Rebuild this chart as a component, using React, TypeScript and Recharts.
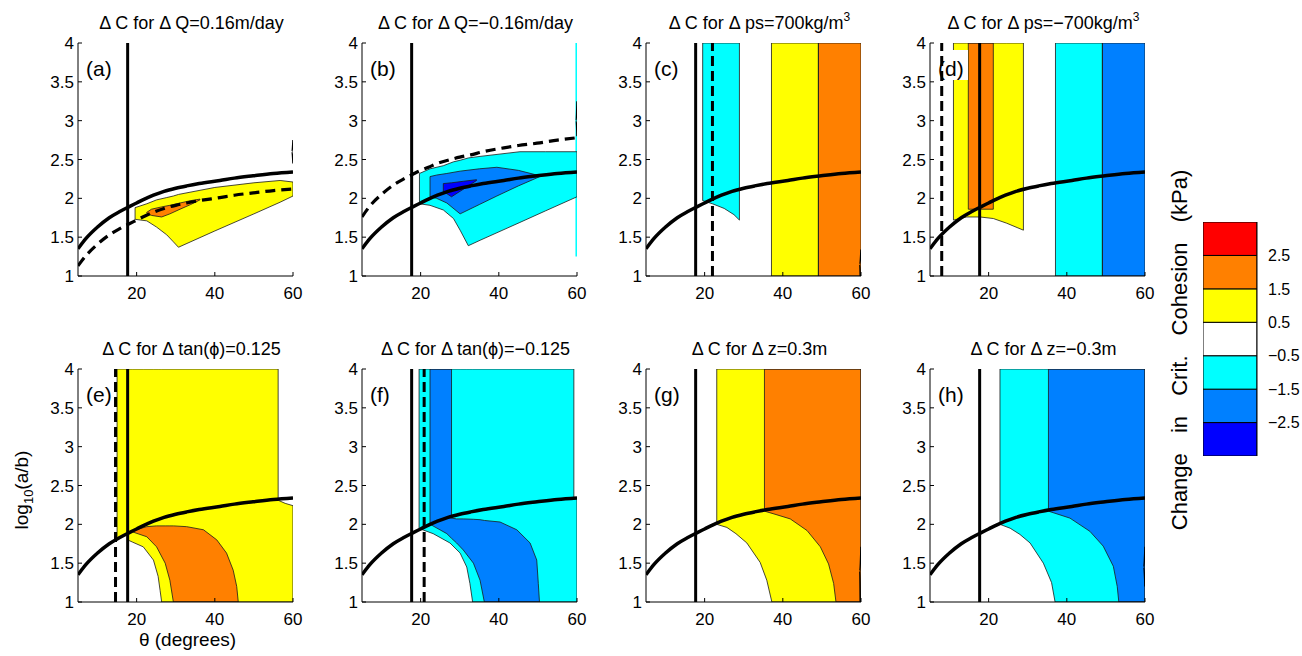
import React from 'react';
import { ComposedChart, Area, Line, XAxis, YAxis, ReferenceLine, ReferenceArea } from 'recharts';

// ---------- shared axes ----------
const X_DOMAIN: [number, number] = [5, 60];
const Y_DOMAIN: [number, number] = [1, 4];
const X_TICKS = [20, 40, 60];
const Y_TICKS = [1, 1.5, 2, 2.5, 3, 3.5, 4];

// ---------- colours of the contour levels ----------
const BLUE = '#0000FF';
const DODGER = '#0080FF';
const CYAN = '#00FFFF';
const WHITE = '#FFFFFF';
const YELLOW = '#FFFF00';
const ORANGE = '#FF8000';
const RED = '#FF0000';

// ---------- threshold curves (theta, log10(a/b)) ----------
const THETA = [5, 7, 10, 13, 15.7, 18, 20, 22, 24.3, 27, 30, 32.8, 36, 41.3, 45, 49.8, 55, 60];
const CRIT = [1.35, 1.48, 1.63, 1.75, 1.83, 1.89, 1.94, 1.99, 2.04, 2.09, 2.13, 2.16, 2.19, 2.23, 2.26, 2.29, 2.32, 2.34];
const DASH_A = [1.13, 1.26, 1.41, 1.53, 1.61, 1.67, 1.72, 1.77, 1.82, 1.87, 1.91, 1.94, 1.97, 2.01, 2.04, 2.07, 2.10, 2.12];
const DASH_B = [1.76, 1.90, 2.05, 2.17, 2.25, 2.31, 2.36, 2.40, 2.45, 2.49, 2.53, 2.56, 2.60, 2.65, 2.68, 2.71, 2.75, 2.78];

const SOLID_THETA = 17.7;
const DASH_THETA_C = 22.0;
const DASH_THETA_D = 8.0;
const DASH_THETA_E = 14.6;
const DASH_THETA_F = 20.9;

// ---------- contour regions: [theta, low, high] ----------
type Row = [number, number, number];

const A_YELLOW: Row[] = [[19.6, 1.73, 1.88], [22.6, 1.71, 1.93], [25.1, 1.63, 1.98], [27.7, 1.53, 2.01], [29.4, 1.44, 2.03], [30.7, 1.37, 2.05], [40, 1.58, 2.14], [50, 1.80, 2.20], [56.7, 1.95, 2.23], [60, 2.03, 2.21]];
const A_ORANGE: Row[] = [[22.6, 1.81, 1.82], [23.8, 1.78, 1.86], [26.4, 1.76, 1.89], [28.5, 1.80, 1.91], [31.1, 1.86, 1.94], [33.8, 1.92, 1.97], [36.2, 1.98, 1.99]];

const B_CYAN: Row[] = [[19.7, 1.93, 2.32], [22.4, 1.91, 2.38], [25.8, 1.85, 2.42], [28.4, 1.74, 2.47], [30.1, 1.59, 2.49], [32.2, 1.39, 2.52], [35.2, 1.46, 2.54], [45.4, 1.69, 2.60], [52, 1.84, 2.60], [60, 2.02, 2.60]];
const B_CYAN_EDGE: Row[] = [[59.6, 1.25, 4], [60, 1.25, 4]];
const B_DODGER: Row[] = [[22.4, 2.02, 2.28], [24.1, 2.00, 2.30], [26.7, 1.94, 2.32], [30.1, 1.80, 2.35], [35, 1.92, 2.38], [39.5, 2.03, 2.40], [45, 2.16, 2.36], [50.5, 2.28, 2.29]];
const B_BLUE: Row[] = [[25.8, 2.09, 2.19], [27.9, 2.02, 2.20], [31, 2.12, 2.22], [34.3, 2.23, 2.24]];

const C_CYAN: Row[] = [[19.5, 1.97, 4], [22, 1.93, 4], [25, 1.87, 4], [27.5, 1.79, 4], [28.9, 1.72, 4]];
const C_YELLOW: Row[] = [[37.1, 1, 4], [49.1, 1, 4]];
const C_ORANGE: Row[] = [[49.1, 1, 4], [60, 1, 4]];

const D_YELLOW: Row[] = [[11.0, 1.72, 4], [14.4, 1.76, 4], [17.8, 1.76, 4], [21.2, 1.74, 4], [24.6, 1.68, 4], [28.9, 1.59, 4]];
const D_ORANGE: Row[] = [[14.8, 1.86, 4], [21.2, 1.86, 4]];
const D_CYAN: Row[] = [[37.1, 1, 4], [49.1, 1, 4]];
const D_DODGER: Row[] = [[49.1, 1, 4], [60, 1, 4]];

const E_YELLOW: Row[] = [[15.0, 1.82, 4], [17.7, 1.89, 4], [17.7, 1.80, 4], [19, 1.77, 4], [21.7, 1.71, 4], [24.3, 1.54, 4], [25.5, 1.33, 4], [26.0, 1.15, 4], [26.4, 1.0, 4], [56.2, 1, 4], [56.2, 1, 2.31], [58, 1, 2.27], [60, 1, 2.24]];
const E_ORANGE: Row[] = [[19.1, 1.90, 1.92], [22.6, 1.84, 1.97], [25.1, 1.71, 1.98], [27.3, 1.50, 1.98], [28.5, 1.28, 1.98], [29.4, 1.0, 1.98], [32.8, 1, 1.97], [37.1, 1, 1.93], [40.5, 1, 1.80], [43, 1, 1.63], [44.7, 1, 1.41], [45.6, 1, 1.2], [46, 1, 1.0]];

const F_CYAN: Row[] = [[19.6, 1.95, 4], [20.5, 1.93, 4], [23.2, 1.88, 4], [27.5, 1.76, 4], [30.1, 1.63, 4], [31.8, 1.45, 4], [32.6, 1.24, 4], [33.3, 1.0, 4], [59.2, 1, 4], [59.2, 1, 2.34], [60, 1, 2.34]];
const F_DODGER: Row[] = [[22.4, 2.00, 4], [22.8, 1.99, 4], [26.7, 1.88, 4], [27.9, 1.82, 4], [27.9, 1.82, 2.08], [29.2, 1.76, 2.07], [30.9, 1.67, 2.07], [33.5, 1.50, 2.065], [35.2, 1.28, 2.06], [36.3, 1.0, 2.05], [40.3, 1, 2.03], [44.6, 1, 1.93], [48, 1, 1.76], [49.7, 1, 1.54], [50.1, 1, 1.24], [50.4, 1, 1.0]];

const G_YELLOW: Row[] = [[23.1, 2.0, 4], [25.7, 1.96, 4], [28, 1.88, 4], [30.8, 1.76, 4], [34.2, 1.51, 4], [35.9, 1.28, 4], [37.2, 1.0, 4], [60, 1, 4]];
const G_ORANGE: Row[] = [[35.3, 2.17, 4], [38, 2.13, 4], [41.9, 2.07, 4], [46.2, 1.92, 4], [49.6, 1.71, 4], [51.7, 1.49, 4], [53, 1.24, 4], [53.6, 1.0, 4], [60, 1, 4]];

const H_CYAN: Row[] = [[22.9, 2.0, 4], [25.5, 1.95, 4], [28, 1.87, 4], [30.6, 1.76, 4], [34, 1.5, 4], [36.1, 1.25, 4], [37, 1.0, 4], [60, 1, 4]];
const H_DODGER: Row[] = [[35.3, 2.17, 4], [40.8, 2.08, 4], [45.9, 1.91, 4], [49.3, 1.72, 4], [51.9, 1.46, 4], [52.9, 1.2, 4], [53.3, 1.0, 4], [60, 1, 4]];

// small contour fragments touching the right border: [theta, log10(a/b)]
const A_EDGE: [number, number][] = [[60, 2.75], [59.75, 2.6], [60, 2.45]];
const B_EDGE: [number, number][] = [[60, 3.25], [59.8, 3.0], [60, 2.8]];
const C_EDGE: [number, number][] = [[60, 1.34], [59.7, 1.15], [59.8, 1.0]];
const G_EDGE: [number, number][] = [[60, 1.71], [59.7, 1.4], [59.8, 1.0]];
const H_EDGE: [number, number][] = [[60, 1.71], [59.7, 1.45], [60, 1.2]];

// ---------- colour bar ----------
const CB_EDGES = [-3.5, -2.5, -1.5, -0.5, 0.5, 1.5, 2.5, 3.5];
const CB_COLORS = [BLUE, DODGER, CYAN, WHITE, YELLOW, ORANGE, RED];
const CB_TICKS = [-2.5, -1.5, -0.5, 0.5, 1.5, 2.5];
const CB_LABELS = ['\u22122.5', '\u22121.5', '\u22120.5', '0.5', '1.5', '2.5'];

// ---------- text ----------
const TITLES = [
  { main: '\u0394 C for \u0394 Q=0.16m/day', sup: '' },
  { main: '\u0394 C for \u0394 Q=\u22120.16m/day', sup: '' },
  { main: '\u0394 C for \u0394 ps=700kg/m', sup: '3' },
  { main: '\u0394 C for \u0394 ps=\u2212700kg/m', sup: '3' },
  { main: '\u0394 C for \u0394 tan(\u03d5)=0.125', sup: '' },
  { main: '\u0394 C for \u0394 tan(\u03d5)=\u22120.125', sup: '' },
  { main: '\u0394 C for \u0394 z=0.3m', sup: '' },
  { main: '\u0394 C for \u0394 z=\u22120.3m', sup: '' },
];
const TAGS = ['(a)', '(b)', '(c)', '(d)', '(e)', '(f)', '(g)', '(h)'];

// ---------- layout ----------
const PLOT_W = 215;
const PLOT_H = 233;
const TOP_M = 15;
const COL_LEFT = [78, 362, 646, 930];
const ROW_TOP = [43, 369];
const FONT = '"Liberation Sans", Arial, Helvetica, sans-serif';

type Region = { rows: Row[]; color: string; edge?: boolean };
type PanelCfg = { regions: Region[]; dashCurve?: number[]; dashTheta?: number; edgeMark?: [number, number][] };

const PANELS: PanelCfg[] = [
  { regions: [{ rows: A_YELLOW, color: YELLOW }, { rows: A_ORANGE, color: ORANGE }], dashCurve: DASH_A, edgeMark: A_EDGE },
  { regions: [{ rows: B_CYAN, color: CYAN }, { rows: B_CYAN_EDGE, color: CYAN, edge: false }, { rows: B_DODGER, color: DODGER }, { rows: B_BLUE, color: BLUE }], dashCurve: DASH_B, edgeMark: B_EDGE },
  { regions: [{ rows: C_CYAN, color: CYAN }, { rows: C_YELLOW, color: YELLOW }, { rows: C_ORANGE, color: ORANGE }], dashTheta: DASH_THETA_C, edgeMark: C_EDGE },
  { regions: [{ rows: D_YELLOW, color: YELLOW }, { rows: D_ORANGE, color: ORANGE }, { rows: D_CYAN, color: CYAN }, { rows: D_DODGER, color: DODGER }], dashTheta: DASH_THETA_D },
  { regions: [{ rows: E_YELLOW, color: YELLOW }, { rows: E_ORANGE, color: ORANGE }], dashTheta: DASH_THETA_E },
  { regions: [{ rows: F_CYAN, color: CYAN }, { rows: F_DODGER, color: DODGER }], dashTheta: DASH_THETA_F },
  { regions: [{ rows: G_YELLOW, color: YELLOW }, { rows: G_ORANGE, color: ORANGE }], edgeMark: G_EDGE },
  { regions: [{ rows: H_CYAN, color: CYAN }, { rows: H_DODGER, color: DODGER }], edgeMark: H_EDGE },
];

const toArea = (rows: Row[]) => rows.map(([x, lo, hi]) => ({ x, r: [lo, hi] }));
const toOutline = (rows: Row[]) => {
  const top = rows.map(([x, , hi]) => ({ x, y: hi }));
  const bottom = rows.slice().reverse().map(([x, lo]) => ({ x, y: lo }));
  return [...top, ...bottom, top[0]];
};
const toCurve = (ys: number[]) => THETA.map((x, i) => ({ x, y: ys[i] }));
const toPts = (pts: [number, number][]) => pts.map(([x, y]) => ({ x, y }));

const tickStyle = { fontSize: 17, fill: '#000', fontFamily: FONT };

function Panel({ cfg, left, top }: { cfg: PanelCfg; left: number; top: number }) {
  return (
    <div style={{ position: 'absolute', left: left - 40, top: top - TOP_M }}>
      <ComposedChart width={40 + PLOT_W + 10} height={TOP_M + PLOT_H + 30} margin={{ top: TOP_M, right: 10, bottom: 0, left: 0 }}>
        <XAxis type="number" dataKey="x" domain={X_DOMAIN} allowDataOverflow ticks={X_TICKS} interval={0}
          tickSize={-4} tickMargin={15} height={30} tick={tickStyle} axisLine={{ stroke: '#000' }} tickLine={{ stroke: '#000' }} />
        <YAxis type="number" domain={Y_DOMAIN} allowDataOverflow ticks={Y_TICKS} interval={0}
          tickSize={-4} tickMargin={8} width={40} tick={tickStyle} axisLine={{ stroke: '#000' }} tickLine={{ stroke: '#000' }} />
        <XAxis xAxisId="top" orientation="top" type="number" domain={X_DOMAIN} allowDataOverflow ticks={X_TICKS} interval={0}
          tickSize={-4} height={0} tick={false} axisLine={{ stroke: '#000' }} tickLine={{ stroke: '#000' }} />
        <YAxis yAxisId="right" orientation="right" type="number" domain={Y_DOMAIN} allowDataOverflow ticks={Y_TICKS} interval={0}
          tickSize={-4} width={0} tick={false} axisLine={{ stroke: '#000' }} tickLine={{ stroke: '#000' }} />
        {cfg.regions.map((rg, i) => (
          <Area key={'a' + i} data={toArea(rg.rows)} dataKey="r" type="linear" fill={rg.color} fillOpacity={1}
            stroke="none" isAnimationActive={false} activeDot={false} />
        ))}
        {cfg.regions.filter((rg) => rg.edge !== false).map((rg, i) => (
          <Line key={'o' + i} data={toOutline(rg.rows)} dataKey="y" type="linear" stroke="#1a1a1a" strokeWidth={0.8}
            dot={false} activeDot={false} isAnimationActive={false} />
        ))}
        {cfg.edgeMark && (
          <Line data={toPts(cfg.edgeMark)} dataKey="y" type="monotone" stroke="#000" strokeWidth={1.5}
            dot={false} activeDot={false} isAnimationActive={false} />
        )}
        <ReferenceLine x={SOLID_THETA} stroke="#000" strokeWidth={3} ifOverflow="hidden" />
        {cfg.dashTheta !== undefined && (
          <ReferenceLine x={cfg.dashTheta} stroke="#000" strokeWidth={3} strokeDasharray="10 5" ifOverflow="hidden" />
        )}
        {cfg.dashCurve && (
          <Line data={toCurve(cfg.dashCurve)} dataKey="y" type="monotone" stroke="#000" strokeWidth={3.2}
            strokeDasharray="10 6" dot={false} activeDot={false} isAnimationActive={false} />
        )}
        <Line data={toCurve(CRIT)} dataKey="y" type="monotone" stroke="#000" strokeWidth={3.5}
          dot={false} activeDot={false} isAnimationActive={false} />
      </ComposedChart>
    </div>
  );
}

function ColorBar() {
  const cbW = 54;
  const cbH = 234;
  return (
    <div style={{ position: 'absolute', left: 1203, top: 222 - 10 }}>
      <ComposedChart width={cbW + 46} height={cbH + 20} margin={{ top: 10, right: 0, bottom: 10, left: 0 }} data={[{ x: 0 }, { x: 1 }]}>
        <XAxis type="number" dataKey="x" domain={[0, 1]} hide />
        <YAxis orientation="right" type="number" domain={[CB_EDGES[0], CB_EDGES[CB_EDGES.length - 1]]} allowDataOverflow
          ticks={CB_TICKS} interval={0} width={46} tickLine={false} tickMargin={5} axisLine={{ stroke: '#000' }}
          tick={{ fontSize: 16, fill: '#000', fontFamily: FONT, textAnchor: 'start' }}
          tickFormatter={(v: number) => CB_LABELS[CB_TICKS.indexOf(v)] ?? String(v)} />
        {CB_COLORS.map((c, i) => (
          <ReferenceArea key={i} x1={0} x2={1} y1={CB_EDGES[i]} y2={CB_EDGES[i + 1]} fill={c} fillOpacity={1}
            stroke="#000" strokeWidth={1} ifOverflow="hidden" />
        ))}
      </ComposedChart>
    </div>
  );
}

export default function App() {
  return (
    <div style={{ position: 'absolute', left: 0, top: 0, width: 1302, height: 656, background: '#fff', fontFamily: FONT, overflow: 'hidden' }}>
      {PANELS.map((cfg, i) => (
        <Panel key={i} cfg={cfg} left={COL_LEFT[i % 4]} top={ROW_TOP[Math.floor(i / 4)]} />
      ))}
      <ColorBar />
      <svg width={1302} height={656} style={{ position: 'absolute', left: 0, top: 0, pointerEvents: 'none' }} fontFamily={FONT}>
        {PANELS.map((_, i) => {
          const left = COL_LEFT[i % 4];
          const top = ROW_TOP[Math.floor(i / 4)];
          const t = TITLES[i];
          return (
            <g key={i}>
              <text x={left + PLOT_W / 2 + 6} y={top - 14} textAnchor="middle" fontSize={18} fill="#000">
                {t.main}
                {t.sup && <tspan dy={-8} fontSize={12}>{t.sup}</tspan>}
              </text>
              {i === 3 && <rect x={left + 16} y={top + 7} width={22} height={30} fill="#fff" />}
              <text x={left + 8} y={top + 33} fontSize={21} fill="#000">{TAGS[i]}</text>
            </g>
          );
        })}
        <text transform="translate(28,490) rotate(-90)" textAnchor="middle" fontSize={19} fill="#000">
          log<tspan dy={5} fontSize={13}>10</tspan><tspan dy={-5}>(a/b)</tspan>
        </text>
        <text x={COL_LEFT[0] + PLOT_W / 2 + 2} y={646} textAnchor="middle" fontSize={19} fill="#000">{'\u03b8 (degrees)'}</text>
        <text transform="translate(1187,350) rotate(-90)" textAnchor="middle" fontSize={22} fill="#000" style={{ wordSpacing: '14px' }}>
          Change in Crit. Cohesion (kPa)
        </text>
      </svg>
    </div>
  );
}
